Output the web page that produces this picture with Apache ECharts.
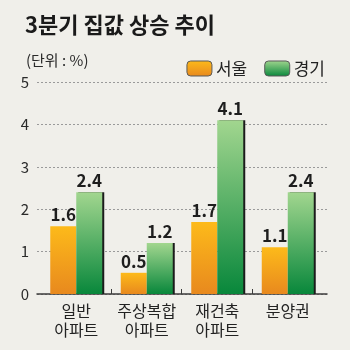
<!DOCTYPE html>
<html>
<head>
<meta charset="utf-8">
<script src="https://cdn.jsdelivr.net/npm/echarts@6/dist/echarts.min.js"></script>
<style>
  html, body { margin: 0; padding: 0; background: #f0efea; }
  #chart { width: 350px; height: 350px; }
</style>
</head>
<body>
<div id="chart"></div>
<script>
// Housing price rise in Q3, by housing type (%)
const categories = ['일반\n아파트', '주상복합\n아파트', '재건축\n아파트', '분양권'];
const seoul = [1.6, 0.5, 1.7, 1.1];
const gyeonggi = [2.4, 1.2, 4.1, 2.4];
const yTicks = [0, 1, 2, 3, 4, 5];

const FONT = '"Noto Sans CJK KR", "Noto Sans", sans-serif';

const orangeFill = new echarts.graphic.LinearGradient(0, 0, 0, 1, [
  { offset: 0, color: '#fdba1a' },
  { offset: 1, color: '#e8891e' }
]);
const greenFill = new echarts.graphic.LinearGradient(0, 0, 0, 1, [
  { offset: 0, color: '#a2d68f' },
  { offset: 1, color: '#08873b' }
]);

const valueLabel = {
  show: true,
  position: 'top',
  distance: 3,
  fontFamily: FONT,
  fontSize: 17,
  fontWeight: 'bold',
  color: '#1e1e1e'
};

const chart = echarts.init(document.getElementById('chart'), null, { renderer: 'canvas' });

chart.setOption({
  backgroundColor: '#f0efea',
  animation: false,
  title: [
    {
      text: '3분기 집값 상승 추이',
      left: 20, top: 9,
      textStyle: { fontFamily: FONT, fontSize: 22, fontWeight: 'bold', color: '#1a1a1a' }
    },
    {
      text: '(단위 : %)',
      left: 21, top: 48,
      textStyle: { fontFamily: FONT, fontSize: 15, fontWeight: 'normal', color: '#2a2a2a' }
    }
  ],
  legend: {
    right: 20, top: 55,
    itemWidth: 25, itemHeight: 15,
    itemGap: 17,
    textStyle: { fontFamily: FONT, fontSize: 17, color: '#222', padding: [0, 0, 0, -1] },
    itemStyle: { borderColor: '#5a5a5a', borderWidth: 1 },
    data: ['서울', '경기']
  },
  grid: [
    { left: 37, right: 23, top: 82, bottom: 56 },
    { left: 41, right: 27, top: 82, bottom: 56 },
    { left: 111, right: 98, top: 82, bottom: 56 }
  ],
  xAxis: [
    {
      gridIndex: 0, type: 'category', data: categories,
      axisLine: { show: true, lineStyle: { color: '#3c3c3c', width: 1.5 } },
      axisTick: { show: false }, axisLabel: { show: false }
    },
    {
      gridIndex: 1, type: 'category', data: categories,
      axisLine: { show: false }, axisTick: { show: false },
      axisLabel: {
        interval: 0,
        fontFamily: FONT, fontSize: 16, color: '#222',
        lineHeight: 19, margin: 7
      }
    },
    {
      gridIndex: 2, type: 'category', data: ['', '', ''], boundaryGap: false,
      axisLine: { show: false },
      axisTick: { show: true, inside: true, length: 5, lineStyle: { color: '#3c3c3c', width: 1 } },
      axisLabel: { show: false }
    }
  ],
  yAxis: [
    {
      gridIndex: 0, type: 'value', min: yTicks[0], max: yTicks[yTicks.length - 1], interval: 1,
      axisLine: { show: false }, axisTick: { show: false },
      axisLabel: { fontFamily: FONT, fontSize: 15, color: '#2a2a2a', margin: 8 },
      splitLine: { show: true, lineStyle: { color: '#9a9a9a', type: [2, 2], width: 1 } }
    },
    {
      gridIndex: 1, type: 'value', min: 0, max: 5,
      show: false, splitLine: { show: false }
    },
    {
      gridIndex: 2, type: 'value', min: 0, max: 5,
      show: false, splitLine: { show: false }
    }
  ],
  series: [
    {
      name: '서울', type: 'bar', xAxisIndex: 1, yAxisIndex: 1,
      data: seoul, barWidth: 26, barGap: '0%',
      itemStyle: { color: orangeFill },
      label: valueLabel
    },
    {
      name: '경기', type: 'bar', xAxisIndex: 1, yAxisIndex: 1,
      data: gyeonggi, barWidth: 26, barGap: '0%',
      itemStyle: {
        color: greenFill,
        shadowColor: '#1b1b1b', shadowOffsetX: 2, shadowOffsetY: 0, shadowBlur: 0
      },
      label: valueLabel
    }
  ]
});
</script>
</body>
</html>
